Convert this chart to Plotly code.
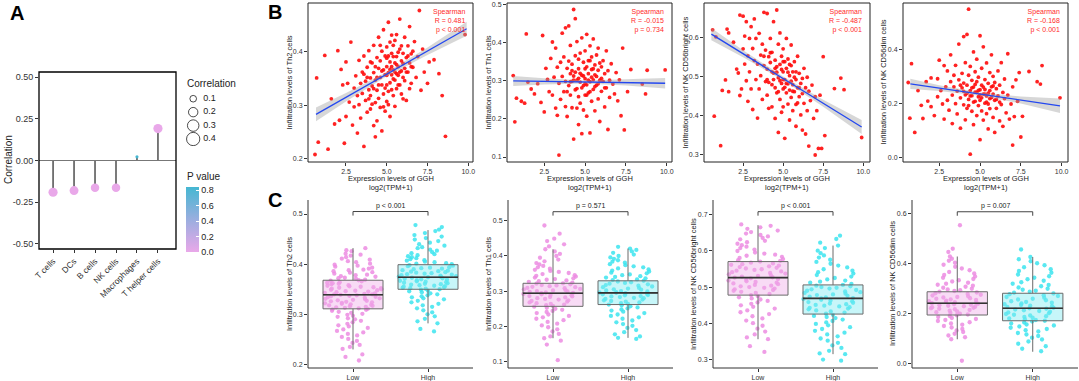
import plotly.graph_objects as go

W, H = 1079, 381
FONT = "Liberation Sans, Arial, sans-serif"

# ---------------- Panel A data ----------------
cell_types = ["T cells", "DCs", "B cells", "NK cells", "Macrophages", "T helper cells"]
correlations = [-0.190, -0.180, -0.163, -0.163, 0.022, 0.191]
p_values = [0.00001, 0.00002, 0.0001, 0.0001, 0.84, 0.00001]
size_legend = [0.1, 0.2, 0.3, 0.4]
pval_ticks = [0.0, 0.2, 0.4, 0.6, 0.8]

# ---------------- Panel B data ----------------
b_ylabels = ["Infiltration levels of Th2 cells", "Infiltration levels of Th1 cells",
             "Infiltration levels of NK CD56bright cells", "Infiltration levels of NK CD56dim cells"]
b_stats = ["Spearman<br>R = 0.481<br>p < 0.001", "Spearman<br>R = -0.015<br>p = 0.734",
           "Spearman<br>R = -0.487<br>p < 0.001", "Spearman<br>R = -0.168<br>p < 0.001"]

th2_points = [(0.6,0.208),(0.7,0.351),(0.8,0.231),(1.2,0.393),(1.4,0.218),(1.6,0.312),(1.8,0.265),(2.0,0.402),(2.1,0.272),(2.2,0.367),(2.3,0.338),(2.4,0.229),(2.5,0.279),(2.5,0.381),(2.6,0.341),(2.7,0.306),(2.8,0.418),(2.9,0.263),(3.0,0.332),(3.0,0.297),(3.1,0.355),(3.2,0.248),(3.2,0.318),(3.3,0.384),(3.3,0.301),(3.4,0.341),(3.4,0.276),(3.5,0.362),(3.5,0.322),(3.6,0.223),(3.6,0.392),(3.7,0.309),(3.7,0.345),(3.8,0.287),(3.8,0.371),(3.9,0.329),(3.9,0.402),(4.0,0.351),(4.0,0.293),(4.0,0.318),(4.1,0.379),(4.1,0.336),(4.2,0.262),(4.2,0.361),(4.2,0.412),(4.3,0.305),(4.3,0.347),(4.3,0.241),(4.4,0.389),(4.4,0.328),(4.4,0.271),(4.5,0.369),(4.5,0.427),(4.5,0.313),(4.6,0.352),(4.6,0.296),(4.6,0.383),(4.7,0.338),(4.7,0.401),(4.7,0.252),(4.8,0.366),(4.8,0.321),(4.8,0.441),(4.9,0.357),(4.9,0.289),(4.9,0.392),(5.0,0.372),(5.0,0.338),(5.0,0.409),(5.0,0.307),(5.1,0.361),(5.1,0.455),(5.1,0.326),(5.2,0.381),(5.2,0.342),(5.2,0.279),(5.3,0.397),(5.3,0.357),(5.3,0.431),(5.4,0.366),(5.4,0.318),(5.4,0.412),(5.5,0.379),(5.5,0.347),(5.5,0.298),(5.6,0.391),(5.6,0.432),(5.6,0.359),(5.7,0.372),(5.7,0.338),(5.8,0.405),(5.8,0.461),(5.8,0.362),(5.9,0.383),(5.9,0.321),(6.0,0.397),(6.0,0.352),(6.1,0.427),(6.1,0.369),(6.2,0.389),(6.2,0.309),(6.3,0.411),(6.3,0.362),(6.4,0.379),(6.4,0.447),(6.5,0.396),(6.5,0.341),(6.6,0.371),(6.7,0.419),(6.8,0.352),(6.9,0.391),(7.0,0.477),(7.1,0.328),(7.2,0.405),(7.3,0.362),(7.5,0.341),(7.6,0.381),(7.9,0.385),(8.2,0.359),(8.4,0.318),(8.6,0.242),(9.8,0.432),
              (4.1,0.302),(4.3,0.372),(4.4,0.352),(4.5,0.338),(4.6,0.412),(4.7,0.364),(4.8,0.297),(4.9,0.332),(5.0,0.388),(5.0,0.356),(5.1,0.301),(5.1,0.392),(5.2,0.367),(5.2,0.418),(5.3,0.329),(5.3,0.372),(5.4,0.349),(5.4,0.391),(5.5,0.362),(5.5,0.421),(5.6,0.331),(5.6,0.376),(5.7,0.399),(5.7,0.356),(5.8,0.338),(5.9,0.411),(5.9,0.364),(6.0,0.378),(6.0,0.312),(6.1,0.346),(6.2,0.362),(6.3,0.392),(6.4,0.331),(6.5,0.372),(6.6,0.401),(3.8,0.352),(3.9,0.312),(4.0,0.381),(4.2,0.331),(3.6,0.358)]

th1_points = [(0.6,0.313),(0.7,0.192),(0.8,0.254),(1.1,0.246),(1.3,0.241),(1.4,0.422),(1.5,0.296),(1.7,0.278),(1.9,0.265),(2.1,0.292),(2.3,0.243),(2.4,0.418),(2.5,0.218),(2.6,0.332),(2.7,0.303),(2.8,0.271),(2.9,0.358),(3.0,0.401),(3.0,0.262),(3.1,0.309),(3.2,0.385),(3.2,0.228),(3.3,0.335),(3.3,0.209),(3.4,0.105),(3.4,0.293),(3.5,0.348),(3.5,0.251),(3.6,0.424),(3.6,0.311),(3.7,0.271),(3.7,0.362),(3.8,0.438),(3.8,0.298),(3.8,0.232),(3.9,0.332),(3.9,0.206),(4.0,0.443),(4.0,0.287),(4.0,0.351),(4.1,0.262),(4.1,0.318),(4.1,0.392),(4.2,0.298),(4.2,0.229),(4.2,0.343),(4.3,0.486),(4.3,0.147),(4.3,0.312),(4.4,0.462),(4.4,0.276),(4.4,0.365),(4.5,0.301),(4.5,0.228),(4.5,0.402),(4.6,0.331),(4.6,0.258),(4.6,0.185),(4.7,0.296),(4.7,0.372),(4.7,0.241),(4.8,0.314),(4.8,0.161),(4.8,0.412),(4.9,0.287),(4.9,0.348),(4.9,0.223),(5.0,0.305),(5.0,0.378),(5.0,0.262),(5.0,0.331),(5.1,0.289),(5.1,0.421),(5.1,0.207),(5.2,0.318),(5.2,0.352),(5.2,0.268),(5.3,0.297),(5.3,0.391),(5.3,0.163),(5.4,0.329),(5.4,0.246),(5.4,0.362),(5.5,0.302),(5.5,0.277),(5.5,0.409),(5.6,0.341),(5.6,0.221),(5.6,0.315),(5.7,0.288),(5.7,0.367),(5.8,0.252),(5.8,0.327),(5.8,0.385),(5.9,0.301),(5.9,0.193),(6.0,0.336),(6.0,0.272),(6.1,0.352),(6.1,0.298),(6.2,0.231),(6.2,0.318),(6.3,0.378),(6.3,0.281),(6.4,0.326),(6.4,0.172),(6.5,0.301),(6.5,0.256),(6.6,0.344),(6.7,0.291),(6.8,0.265),(6.9,0.321),(7.0,0.247),(7.1,0.302),(7.2,0.208),(7.3,0.385),(7.4,0.171),(7.6,0.271),(7.8,0.329),(8.5,0.291),(8.7,0.265),(8.8,0.327),(9.9,0.328),
              (4.3,0.301),(4.4,0.322),(4.5,0.279),(4.6,0.306),(4.7,0.319),(4.8,0.281),(4.9,0.312),(5.0,0.292),(5.1,0.336),(5.2,0.301),(5.3,0.271),(5.4,0.309),(5.5,0.331),(5.6,0.284),(5.7,0.311),(5.9,0.346),(6.0,0.306),(6.2,0.281),(4.1,0.297),(3.9,0.271),(5.3,0.352),(4.6,0.356),(5.8,0.292),(5.1,0.262),(4.2,0.326)]

nkbright_points = [(0.6,0.620),(0.7,0.398),(0.8,0.602),(1.1,0.322),(1.2,0.464),(1.4,0.491),(1.5,0.622),(1.6,0.612),(1.6,0.461),(1.9,0.588),(2.1,0.519),(2.2,0.509),(2.3,0.658),(2.3,0.451),(2.4,0.468),(2.5,0.655),(2.5,0.571),(2.6,0.604),(2.6,0.532),(2.7,0.641),(2.7,0.489),(2.8,0.553),(2.8,0.436),(2.9,0.598),(2.9,0.512),(3.0,0.628),(3.0,0.468),(3.1,0.572),(3.1,0.415),(3.2,0.541),(3.2,0.648),(3.3,0.492),(3.3,0.598),(3.4,0.532),(3.4,0.393),(3.5,0.611),(3.5,0.468),(3.6,0.555),(3.6,0.502),(3.7,0.583),(3.7,0.441),(3.8,0.528),(3.8,0.665),(3.9,0.487),(3.9,0.568),(4.0,0.519),(4.0,0.662),(4.0,0.452),(4.1,0.551),(4.1,0.418),(4.2,0.536),(4.2,0.598),(4.3,0.479),(4.3,0.562),(4.3,0.422),(4.4,0.509),(4.4,0.641),(4.5,0.471),(4.5,0.542),(4.5,0.392),(4.6,0.525),(4.6,0.671),(4.6,0.458),(4.7,0.497),(4.7,0.583),(4.7,0.356),(4.8,0.531),(4.8,0.441),(4.8,0.612),(4.9,0.482),(4.9,0.552),(4.9,0.408),(5.0,0.512),(5.0,0.468),(5.0,0.571),(5.0,0.422),(5.1,0.538),(5.1,0.492),(5.1,0.341),(5.2,0.458),(5.2,0.521),(5.2,0.598),(5.3,0.481),(5.3,0.429),(5.3,0.545),(5.4,0.502),(5.4,0.465),(5.4,0.388),(5.5,0.528),(5.5,0.446),(5.5,0.581),(5.6,0.479),(5.6,0.412),(5.6,0.512),(5.7,0.461),(5.7,0.538),(5.8,0.492),(5.8,0.428),(5.8,0.372),(5.9,0.471),(5.9,0.552),(6.0,0.448),(6.0,0.508),(6.1,0.401),(6.1,0.482),(6.2,0.456),(6.2,0.362),(6.3,0.521),(6.3,0.431),(6.4,0.471),(6.4,0.352),(6.5,0.498),(6.5,0.412),(6.6,0.321),(6.6,0.462),(6.7,0.438),(6.8,0.478),(6.9,0.392),(7.0,0.298),(7.0,0.448),(7.1,0.412),(7.2,0.315),(7.3,0.452),(7.4,0.315),(7.5,0.551),(7.6,0.348),(8.2,0.469),(8.6,0.496),(8.8,0.466),(9.9,0.343),
                   (4.4,0.492),(4.6,0.511),(4.8,0.489),(5.0,0.538),(5.2,0.482),(5.4,0.531),(5.6,0.462),(5.8,0.512),(5.0,0.492),(4.5,0.521),(4.7,0.461),(4.9,0.518),(5.1,0.472),(5.3,0.511),(5.5,0.488),(5.7,0.498),(4.2,0.561),(4.0,0.492),(3.8,0.552),(6.0,0.471),(6.2,0.495),(5.9,0.432),(4.3,0.512),(4.1,0.485)]

nkdim_points = [(0.6,0.278),(0.7,0.145),(0.8,0.348),(1.0,0.092),(1.2,0.248),(1.4,0.193),(1.5,0.144),(1.7,0.281),(1.8,0.209),(2.0,0.295),(2.0,0.188),(2.2,0.155),(2.4,0.292),(2.4,0.225),(2.5,0.361),(2.6,0.248),(2.7,0.198),(2.8,0.341),(2.8,0.142),(2.9,0.262),(3.0,0.321),(3.0,0.212),(3.1,0.175),(3.2,0.281),(3.2,0.381),(3.3,0.231),(3.3,0.125),(3.4,0.305),(3.4,0.262),(3.5,0.199),(3.5,0.342),(3.6,0.246),(3.6,0.161),(3.7,0.421),(3.7,0.288),(3.8,0.221),(3.8,0.108),(3.9,0.312),(3.9,0.258),(4.0,0.449),(4.0,0.195),(4.0,0.276),(4.1,0.352),(4.1,0.232),(4.1,0.139),(4.2,0.457),(4.2,0.268),(4.2,0.182),(4.3,0.551),(4.3,0.305),(4.3,0.215),(4.4,0.011),(4.4,0.248),(4.4,0.338),(4.5,0.171),(4.5,0.286),(4.5,0.229),(4.6,0.392),(4.6,0.261),(4.6,0.121),(4.7,0.208),(4.7,0.318),(4.7,0.242),(4.8,0.155),(4.8,0.281),(4.8,0.365),(4.9,0.225),(4.9,0.192),(4.9,0.298),(5.0,0.452),(5.0,0.251),(5.0,0.065),(5.0,0.212),(5.1,0.331),(5.1,0.172),(5.1,0.268),(5.2,0.235),(5.2,0.411),(5.2,0.138),(5.3,0.289),(5.3,0.201),(5.3,0.252),(5.4,0.351),(5.4,0.162),(5.4,0.228),(5.5,0.275),(5.5,0.105),(5.5,0.198),(5.6,0.248),(5.6,0.315),(5.6,0.181),(5.7,0.381),(5.7,0.222),(5.8,0.265),(5.8,0.148),(5.8,0.301),(5.9,0.212),(5.9,0.092),(6.0,0.255),(6.0,0.182),(6.1,0.321),(6.1,0.228),(6.2,0.135),(6.2,0.268),(6.3,0.196),(6.3,0.352),(6.4,0.241),(6.4,0.115),(6.5,0.218),(6.5,0.291),(6.6,0.165),(6.7,0.385),(6.7,0.231),(6.8,0.142),(6.9,0.198),(7.0,0.045),(7.0,0.262),(7.1,0.151),(7.2,0.288),(7.3,0.208),(7.4,0.315),(7.5,0.075),(7.6,0.152),(8.0,0.319),(8.5,0.281),(8.7,0.272),(8.8,0.341),(9.9,0.221),
                (4.4,0.228),(4.6,0.205),(4.8,0.241),(5.0,0.232),(5.2,0.261),(5.4,0.205),(5.6,0.218),(5.8,0.235),(4.5,0.258),(4.7,0.271),(4.9,0.249),(5.1,0.221),(5.3,0.235),(5.5,0.238),(5.7,0.262),(4.2,0.238),(4.0,0.245),(6.0,0.215),(6.2,0.205),(3.8,0.268),(5.9,0.278),(4.3,0.192)]

# fitted line and its confidence band
fit_x = [[0.66, 2.5, 5.0, 7.5, 9.9], [0.6, 2.5, 5.0, 7.5, 9.9],
         [0.52, 2.5, 5.0, 7.5, 9.9], [0.73, 2.5, 5.0, 7.5, 9.9]]
fit_y = [[0.283, 0.315, 0.358, 0.401, 0.443], [0.299, 0.298, 0.2965, 0.295, 0.293],
         [0.609, 0.5585, 0.495, 0.431, 0.370], [0.273, 0.2572, 0.2348, 0.2125, 0.191]]
band_lo = [[0.270, 0.307, 0.354, 0.394, 0.430], [0.286, 0.290, 0.2925, 0.287, 0.279],
           [0.593, 0.5495, 0.490, 0.422, 0.352], [0.254, 0.2462, 0.2288, 0.1995, 0.164]]
band_hi = [[0.296, 0.323, 0.362, 0.408, 0.456], [0.312, 0.306, 0.3005, 0.303, 0.307],
           [0.625, 0.5675, 0.500, 0.440, 0.388], [0.292, 0.2682, 0.2408, 0.2255, 0.218]]

b_yticks = [[0.2, 0.3, 0.4], [0.1, 0.2, 0.3, 0.4, 0.5], [0.3, 0.4, 0.5, 0.6], [0.0, 0.2, 0.4]]
b_xticks = [2.5, 5.0, 7.5, 10.0]

# ---------------- Panel C data ----------------
groups = ["Low", "High"]
c_pvals = ["p < 0.001", "p = 0.571", "p < 0.001", "p = 0.007"]
# box statistics [Low, High]: lower whisker, q1, median, q3, upper whisker
c_lower = [[0.230, 0.282], [0.167, 0.168], [0.357, 0.316], [0.096, 0.046]]
c_q1 = [[0.311, 0.350], [0.257, 0.262], [0.478, 0.426], [0.193, 0.170]]
c_median = [[0.339, 0.374], [0.294, 0.295], [0.526, 0.469], [0.240, 0.220]]
c_q3 = [[0.368, 0.399], [0.322, 0.329], [0.570, 0.506], [0.286, 0.280]]
c_upper = [[0.432, 0.468], [0.418, 0.420], [0.670, 0.614], [0.427, 0.425]]
c_bracket = [0.505, 0.524, 0.707, 0.606]
c_bracket_end = [0.497, 0.513, 0.696, 0.590]
c_yticks = [[0.2, 0.3, 0.4, 0.5], [0.1, 0.2, 0.3, 0.4, 0.5], [0.3, 0.4, 0.5, 0.6, 0.7], [0.0, 0.2, 0.4, 0.6]]

th2_low = [0.432,0.428,0.426,0.421,0.419,0.417,0.414,0.411,0.409,0.406,0.404,0.401,0.399,0.397,0.395,0.393,0.391,0.389,0.388,0.386,0.384,0.383,0.381,0.379,0.378,0.376,0.375,0.373,0.372,0.371,0.369,0.368,0.367,0.366,0.364,0.363,0.362,0.361,0.36,0.358,0.357,0.356,0.355,0.354,0.353,0.352,0.351,0.35,0.349,0.348,0.347,0.346,0.345,0.344,0.343,0.342,0.341,0.34,0.34,0.339,0.338,0.337,0.336,0.335,0.334,0.333,0.332,0.331,0.33,0.329,0.328,0.327,0.326,0.325,0.324,0.323,0.322,0.321,0.32,0.319,0.318,0.317,0.316,0.315,0.314,0.313,0.312,0.311,0.31,0.309,0.307,0.305,0.303,0.301,0.299,0.297,0.295,0.292,0.29,0.287,0.284,0.281,0.278,0.276,0.273,0.27,0.267,0.264,0.261,0.258,0.255,0.251,0.247,0.243,0.239,0.235,0.231,0.22,0.215,0.208]
th2_high = [0.478,0.474,0.469,0.466,0.462,0.458,0.455,0.452,0.449,0.446,0.443,0.44,0.437,0.434,0.432,0.429,0.427,0.424,0.422,0.42,0.418,0.416,0.414,0.412,0.41,0.408,0.407,0.405,0.404,0.402,0.401,0.4,0.398,0.397,0.396,0.394,0.393,0.392,0.391,0.39,0.388,0.387,0.386,0.385,0.384,0.383,0.382,0.381,0.38,0.379,0.378,0.377,0.376,0.375,0.375,0.374,0.373,0.372,0.371,0.37,0.369,0.368,0.367,0.366,0.365,0.364,0.363,0.362,0.361,0.36,0.359,0.358,0.357,0.356,0.355,0.354,0.353,0.352,0.351,0.35,0.349,0.347,0.346,0.344,0.342,0.34,0.338,0.336,0.334,0.332,0.33,0.327,0.324,0.321,0.318,0.315,0.312,0.308,0.304,0.3,0.296,0.291,0.286,0.282,0.271,0.266]
th1_low = [0.485,0.462,0.448,0.441,0.432,0.426,0.418,0.412,0.405,0.399,0.394,0.389,0.384,0.379,0.375,0.371,0.367,0.363,0.36,0.357,0.354,0.351,0.348,0.345,0.343,0.341,0.338,0.336,0.334,0.332,0.33,0.328,0.326,0.324,0.322,0.321,0.319,0.317,0.316,0.314,0.312,0.311,0.309,0.308,0.306,0.305,0.303,0.302,0.3,0.299,0.298,0.296,0.295,0.294,0.292,0.291,0.289,0.288,0.286,0.285,0.283,0.282,0.28,0.278,0.276,0.274,0.272,0.27,0.268,0.266,0.264,0.262,0.26,0.258,0.256,0.253,0.25,0.247,0.244,0.241,0.238,0.234,0.23,0.226,0.222,0.218,0.213,0.208,0.203,0.198,0.192,0.186,0.179,0.172,0.167,0.16,0.149,0.105]
th1_high = [0.425,0.42,0.416,0.412,0.408,0.403,0.399,0.395,0.391,0.387,0.383,0.38,0.376,0.373,0.37,0.367,0.364,0.361,0.358,0.355,0.352,0.35,0.347,0.345,0.342,0.34,0.338,0.336,0.333,0.331,0.329,0.327,0.325,0.323,0.321,0.319,0.317,0.315,0.313,0.311,0.309,0.307,0.305,0.304,0.302,0.3,0.299,0.297,0.296,0.295,0.294,0.292,0.291,0.289,0.288,0.286,0.285,0.283,0.281,0.28,0.278,0.276,0.274,0.272,0.27,0.268,0.266,0.264,0.262,0.26,0.257,0.254,0.251,0.248,0.245,0.242,0.238,0.234,0.23,0.226,0.222,0.217,0.212,0.207,0.202,0.196,0.19,0.184,0.178,0.172,0.168,0.165]
nkbright_low = [0.672,0.668,0.664,0.66,0.655,0.651,0.647,0.643,0.639,0.635,0.631,0.627,0.623,0.619,0.615,0.611,0.607,0.603,0.599,0.595,0.592,0.589,0.586,0.583,0.58,0.577,0.574,0.572,0.57,0.567,0.565,0.563,0.561,0.559,0.557,0.555,0.553,0.551,0.549,0.547,0.545,0.543,0.541,0.539,0.537,0.535,0.533,0.531,0.529,0.527,0.526,0.524,0.522,0.52,0.518,0.516,0.514,0.512,0.51,0.508,0.506,0.504,0.502,0.5,0.498,0.496,0.494,0.492,0.49,0.487,0.484,0.481,0.478,0.475,0.472,0.469,0.466,0.462,0.458,0.454,0.45,0.446,0.441,0.436,0.431,0.426,0.42,0.414,0.408,0.401,0.394,0.386,0.378,0.37,0.362,0.357,0.338,0.322]
nkbright_high = [0.641,0.632,0.622,0.614,0.607,0.6,0.593,0.587,0.581,0.575,0.569,0.564,0.559,0.554,0.549,0.545,0.541,0.537,0.533,0.529,0.525,0.521,0.518,0.515,0.512,0.509,0.506,0.504,0.502,0.5,0.498,0.496,0.494,0.492,0.49,0.488,0.486,0.484,0.482,0.48,0.478,0.476,0.474,0.472,0.47,0.469,0.467,0.465,0.463,0.461,0.459,0.457,0.455,0.453,0.451,0.449,0.447,0.445,0.443,0.441,0.439,0.436,0.433,0.43,0.427,0.424,0.421,0.418,0.415,0.411,0.407,0.403,0.399,0.395,0.39,0.385,0.38,0.375,0.37,0.365,0.359,0.353,0.347,0.34,0.333,0.325,0.318,0.316,0.301,0.298]
nkdim_low = [0.552,0.458,0.445,0.427,0.418,0.41,0.402,0.394,0.386,0.379,0.372,0.365,0.359,0.353,0.347,0.342,0.337,0.332,0.327,0.322,0.318,0.314,0.31,0.306,0.302,0.298,0.295,0.292,0.289,0.286,0.283,0.28,0.277,0.274,0.271,0.268,0.265,0.263,0.26,0.258,0.255,0.253,0.25,0.248,0.246,0.244,0.242,0.24,0.238,0.236,0.234,0.232,0.23,0.228,0.226,0.224,0.222,0.22,0.218,0.216,0.213,0.21,0.207,0.204,0.201,0.198,0.195,0.192,0.189,0.185,0.181,0.177,0.173,0.169,0.164,0.159,0.154,0.149,0.143,0.137,0.131,0.125,0.118,0.111,0.104,0.096,0.01]
nkdim_high = [0.455,0.425,0.416,0.408,0.4,0.392,0.384,0.376,0.369,0.362,0.355,0.348,0.342,0.336,0.33,0.324,0.318,0.313,0.308,0.303,0.298,0.294,0.29,0.286,0.282,0.279,0.276,0.272,0.269,0.265,0.262,0.258,0.255,0.252,0.248,0.245,0.242,0.239,0.236,0.233,0.23,0.228,0.225,0.222,0.22,0.218,0.215,0.212,0.209,0.206,0.203,0.2,0.197,0.194,0.191,0.188,0.185,0.182,0.179,0.176,0.173,0.17,0.167,0.163,0.159,0.155,0.151,0.147,0.142,0.137,0.132,0.127,0.121,0.115,0.109,0.102,0.095,0.087,0.078,0.068,0.058,0.048]

b_points = [th2_points, th1_points, nkbright_points, nkdim_points]
c_samples = [[th2_low, th2_high], [th1_low, th1_high], [nkbright_low, nkbright_high], [nkdim_low, nkdim_high]]

# ---------------- layout geometry (pixels) ----------------
def dx(l, r):
    return [l / W, r / W]

def dy(t, b):
    return [1 - b / H, 1 - t / H]

def px(x):
    return x / W

def py(y):
    return 1 - y / H

A_dom = (39, 176, 72, 249)
B_doms = [(308, 473), (507, 672), (704, 870), (903, 1068)]
B_top, B_bot = 3, 162
B_xr = [[0.17, 10.29], [0.22, 10.32], [0.06, 10.42], [0.28, 10.39]]
B_yr = [[0.194, 0.491], [0.087, 0.503], [0.28, 0.689], [-0.018, 0.574]]
B_ytitle_x = [289, 488, 685, 883]
C_doms = [(308, 473), (508, 673), (713, 878), (912, 1078)]
C_top, C_bot = 200, 368
C_yr = [[0.193, 0.528], [0.083, 0.557], [0.278, 0.739], [-0.019, 0.653]]
C_ytitle_x = [289, 488, 693, 892]

low_pt, high_pt = "rgba(236,140,226,0.85)", "rgba(60,228,238,0.85)"
low_fill, high_fill = "rgba(240,175,232,0.45)", "rgba(130,236,242,0.45)"
pt_cols = [low_pt, high_pt]
fill_cols = [low_fill, high_fill]

fig = go.Figure()
layout = dict(width=W, height=H, margin=dict(l=0, r=0, t=0, b=0, autoexpand=False),
              paper_bgcolor="white", plot_bgcolor="white", showlegend=False,
              font=dict(family=FONT, color="#222"), boxmode="overlay")
annotations = []
shapes = []


def ann(text, x, y, size, color="#222", xanchor="center", yanchor="middle", **kw):
    d = dict(text=text, x=px(x), y=py(y), xref="paper", yref="paper", showarrow=False,
             xanchor=xanchor, yanchor=yanchor, font=dict(size=size, color=color, family=FONT))
    d.update(kw)
    annotations.append(d)


def frame(xa, ya, color="#222", width=1):
    shapes.append(dict(type="rect", xref=f"{xa} domain", yref=f"{ya} domain", x0=0, x1=1, y0=0, y1=1,
                       line=dict(color=color, width=width), fillcolor="rgba(0,0,0,0)", layer="above"))


def fmt(v, nd):
    return f"{v:.{nd}f}"


def axis_style(size=7):
    return dict(tickfont=dict(size=size, color="#333", family=FONT), ticks="outside", ticklen=3,
                tickwidth=1, tickcolor="#333", showline=False, showgrid=False, zeroline=False)

# ---------------- Panel A ----------------
positions = list(range(1, len(cell_types) + 1))
stem_x, stem_y = [], []
for p, r in zip(positions, correlations):
    stem_x += [p, p, None]
    stem_y += [0, r, None]
shapes.append(dict(type="line", xref="x domain", yref="y", x0=0, x1=1, y0=0, y1=0,
                   line=dict(color="#777", width=1)))
fig.add_trace(go.Scatter(x=stem_x, y=stem_y, mode="lines", line=dict(color="#333", width=1.3),
                         xaxis="x", yaxis="y", hoverinfo="skip"))
colorscale = [[0, "#E9A8E9"], [0.5, "#9AAEDF"], [1, "#45B7D2"]]
fig.add_trace(go.Scatter(
    x=positions, y=correlations, mode="markers", xaxis="x", yaxis="y",
    marker=dict(size=[21 * abs(r) ** 0.5 for r in correlations], color=p_values,
                colorscale=colorscale, cmin=0, cmax=max(p_values), line=dict(width=0), opacity=1,
                colorbar=dict(x=px(186), xanchor="left", xpad=0, y=py(187), yanchor="top", ypad=0,
                              len=65, lenmode="pixels", thickness=13, thicknessmode="pixels",
                              outlinewidth=0, tickvals=pval_ticks, ticktext=[fmt(v, 1) for v in pval_ticks],
                              ticks="inside", tickcolor="white", ticklen=3, tickwidth=1,
                              tickfont=dict(size=9, color="#222", family=FONT)))))
ann("P value", 185, 176, 10, xanchor="left")
a_ticks = [-0.5, -0.25, 0.0, 0.25, 0.5]
layout["xaxis"] = dict(domain=dx(A_dom[0], A_dom[1]), range=[0.33, 6.86], anchor="y",
                       tickvals=positions, ticktext=cell_types, tickangle=-45, **axis_style(8.5))
layout["yaxis"] = dict(domain=dy(A_dom[2], A_dom[3]), range=[-0.53, 0.53], anchor="x",
                       tickvals=a_ticks, ticktext=[fmt(v, 2) for v in a_ticks], **axis_style(9))
frame("x", "y", color="black", width=1.3)
ann("Correlation", 8, 160, 10, textangle=-90)
# size legend
fig.add_trace(go.Scatter(x=[0.2] * len(size_legend), y=size_legend, mode="markers", xaxis="x10", yaxis="y10",
                         marker=dict(symbol="circle-open", size=[21 * v ** 0.5 for v in size_legend],
                                     color="black", line=dict(width=1, color="black"))))
fig.add_trace(go.Scatter(x=[0.42] * len(size_legend), y=size_legend, mode="text", xaxis="x10", yaxis="y10",
                         text=[fmt(v, 1) for v in size_legend], textposition="middle right",
                         textfont=dict(size=9, color="#222", family=FONT)))
layout["xaxis10"] = dict(domain=dx(184, 230), range=[0, 1], visible=False, anchor="y10")
layout["yaxis10"] = dict(domain=dy(92, 146), range=[0.452, 0.05], visible=False, anchor="x10")
ann("Correlation", 185, 83, 10, xanchor="left")

# ---------------- Panel B ----------------
for i in range(4):
    ax = i + 2
    xa, ya = f"x{ax}", f"y{ax}"
    pts = b_points[i]
    fig.add_trace(go.Scatter(x=[p[0] for p in pts], y=[p[1] for p in pts], mode="markers",
                             xaxis=xa, yaxis=ya,
                             marker=dict(size=3.8, color="rgba(255,10,10,0.9)", line=dict(width=0))))
    fig.add_trace(go.Scatter(x=fit_x[i] + fit_x[i][::-1], y=band_hi[i] + band_lo[i][::-1],
                             mode="lines", fill="toself", fillcolor="rgba(160,160,160,0.42)",
                             line=dict(width=0), xaxis=xa, yaxis=ya, hoverinfo="skip"))
    fig.add_trace(go.Scatter(x=fit_x[i], y=fit_y[i], mode="lines", line=dict(color="#2448F0", width=1.3),
                             xaxis=xa, yaxis=ya))
    l, r = B_doms[i]
    layout[f"xaxis{ax}"] = dict(domain=dx(l, r), range=B_xr[i], anchor=ya,
                                tickvals=b_xticks, ticktext=[fmt(v, 1) for v in b_xticks], **axis_style())
    layout[f"yaxis{ax}"] = dict(domain=dy(B_top, B_bot), range=B_yr[i], anchor=xa,
                                tickvals=b_yticks[i], ticktext=[fmt(v, 1) for v in b_yticks[i]], **axis_style())
    frame(xa, ya)
    cx = (l + r) / 2
    ann(b_ylabels[i], B_ytitle_x[i], (B_top + B_bot) / 2, 7.5, textangle=-90)
    ann("Expression levels of GGH", cx, 178, 7.5)
    ann("log2(TPM+1)", cx, 187, 7.5)
    ann(b_stats[i], r - 6, 6, 7, color="#FF2A2A", xanchor="right", yanchor="top", align="right")

# ---------------- Panel C ----------------
half_w = 0.4
for i in range(4):
    ax = i + 6
    xa, ya = f"x{ax}", f"y{ax}"
    for g in range(2):
        pos = g + 1
        vals = c_samples[i][g]
        fig.add_trace(go.Box(x=[pos] * len(vals), y=vals, orientation="v", xaxis=xa, yaxis=ya,
                             boxpoints="all", jitter=1, pointpos=0, width=2 * half_w,
                             fillcolor="rgba(0,0,0,0)", line=dict(width=0, color="rgba(0,0,0,0)"),
                             marker=dict(color=pt_cols[g], size=4.3, line=dict(width=0))))
        fig.add_trace(go.Box(x=[pos], q1=[c_q1[i][g]], median=[c_median[i][g]], q3=[c_q3[i][g]],
                             lowerfence=[c_lower[i][g]], upperfence=[c_upper[i][g]],
                             orientation="v", xaxis=xa, yaxis=ya, boxpoints=False, width=2 * half_w,
                             whiskerwidth=0, fillcolor=fill_cols[g], line=dict(color="#6a6a6a", width=1)))
        fig.add_trace(go.Scatter(x=[pos - half_w, pos + half_w], y=[c_median[i][g]] * 2, mode="lines",
                                 line=dict(color="#333", width=1.6), xaxis=xa, yaxis=ya, hoverinfo="skip"))
    # significance bracket
    fig.add_trace(go.Scatter(x=[1, 1, 2, 2], y=[c_bracket_end[i], c_bracket[i], c_bracket[i], c_bracket_end[i]],
                             mode="lines", line=dict(color="#444", width=1), xaxis=xa, yaxis=ya,
                             hoverinfo="skip"))
    l, r = C_doms[i]
    annotations.append(dict(text=c_pvals[i], x=1.5, y=c_bracket[i], xref=xa, yref=ya, xanchor="center",
                            yanchor="bottom", showarrow=False, font=dict(size=7, color="#222", family=FONT)))
    layout[f"xaxis{ax}"] = dict(domain=dx(l, r), range=[0.4, 2.6], anchor=ya,
                                tickvals=[1, 2], ticktext=groups, **axis_style())
    layout[f"yaxis{ax}"] = dict(domain=dy(C_top, C_bot), range=C_yr[i], anchor=xa,
                                tickvals=c_yticks[i], ticktext=[fmt(v, 1) for v in c_yticks[i]], **axis_style())
    shapes.append(dict(type="line", xref=f"{xa} domain", yref=f"{ya} domain", x0=0, x1=1, y0=0, y1=0,
                       line=dict(color="#333", width=1), layer="above"))
    shapes.append(dict(type="line", xref=f"{xa} domain", yref=f"{ya} domain", x0=0, x1=0, y0=0, y1=1,
                       line=dict(color="#333", width=1), layer="above"))
    ann(b_ylabels[i], C_ytitle_x[i], (C_top + C_bot) / 2, 7.5, textangle=-90)

# panel letters
for letter, x, y in [("A", 17, 13), ("B", 275, 12), ("C", 275, 200)]:
    ann(f"<b>{letter}</b>", x, y, 20, color="black")

layout["annotations"] = annotations
layout["shapes"] = shapes
fig.update_layout(**layout)
fig.write_html("out.html", config={"displayModeBar": False},
               post_script="document.body.style.margin='0';document.body.style.overflow='hidden';")
